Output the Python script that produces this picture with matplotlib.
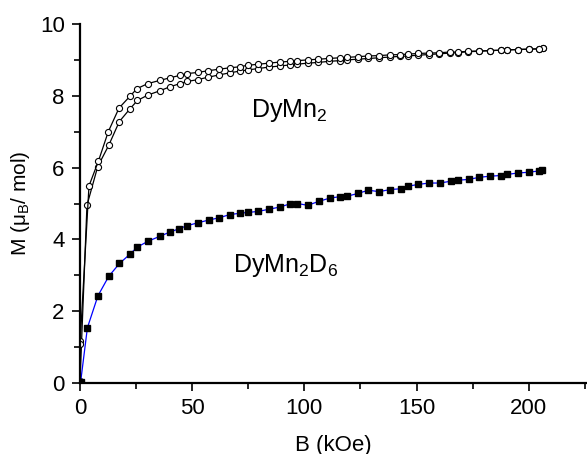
import matplotlib
matplotlib.use("Agg")
import matplotlib.pyplot as plt
from matplotlib.ticker import MultipleLocator

plt.rcParams['font.family'] = ['Liberation Sans', 'DejaVu Sans']
plt.rcParams['mathtext.fontset'] = 'custom'
plt.rcParams['mathtext.rm'] = 'Liberation Sans'
plt.rcParams['mathtext.it'] = 'Liberation Sans'

# DyMn2D6 (squares)
b_d6 = [0.3, 3.3, 8.0, 12.8, 17.6, 22.3, 25.6, 30.4, 35.7, 39.9, 44.3, 47.6,
        52.4, 57.4, 61.9, 66.7, 71.4, 74.7, 79.5, 84.2, 89.0, 93.6, 96.9, 101.5,
        106.5, 111.3, 115.8, 119.0, 123.8, 128.6, 133.3, 138.4, 142.9, 146.1,
        150.6, 155.6, 160.4, 165.2, 168.5, 173.2, 178.0, 182.7, 187.5, 190.5,
        195.2, 200.0, 204.8, 206.0]
m_d6 = [0.04, 1.54, 2.43, 2.97, 3.33, 3.59, 3.79, 3.95, 4.09, 4.20, 4.30, 4.38,
        4.46, 4.54, 4.60, 4.69, 4.73, 4.75, 4.78, 4.84, 4.90, 4.99, 5.00, 4.95,
        5.06, 5.15, 5.19, 5.20, 5.28, 5.37, 5.33, 5.39, 5.41, 5.48,
        5.53, 5.57, 5.57, 5.62, 5.65, 5.67, 5.73, 5.76, 5.78, 5.81,
        5.85, 5.87, 5.91, 5.92]

# DyMn2, increasing field branch (lower)
b_up = [0.0, 3.1, 7.9, 12.8, 17.5, 22.3, 25.6, 30.2, 35.6, 40.0, 44.6, 47.8,
        52.4, 57.2, 61.9, 66.7, 71.4, 74.7, 79.5, 84.2, 89.0, 93.5, 96.7, 101.5,
        106.3, 111.0, 115.8, 119.0, 123.8, 128.6, 133.3, 138.0, 142.8, 146.0,
        150.6, 155.4, 160.2, 165.0, 168.3, 173.0, 178.0, 182.7, 187.5, 190.5,
        195.2, 200.0, 204.8, 206.2]
m_up = [0.05, 4.95, 6.03, 6.62, 7.28, 7.64, 7.87, 8.02, 8.14, 8.25, 8.34, 8.40,
        8.45, 8.52, 8.58, 8.64, 8.69, 8.72, 8.76, 8.80, 8.83, 8.86, 8.88, 8.91,
        8.93, 8.96, 8.98, 9.00, 9.02, 9.04, 9.06, 9.08, 9.10, 9.11,
        9.13, 9.15, 9.17, 9.19, 9.20, 9.23, 9.24, 9.26, 9.27, 9.28,
        9.29, 9.30, 9.31, 9.32]

# DyMn2, decreasing field branch (upper)
b_down = [206.2, 204.8, 200.0, 195.2, 190.5, 187.5, 182.7, 178.0, 173.0, 168.3,
          165.0, 160.2, 155.4, 150.6, 146.0, 142.8, 138.0, 133.3, 128.6, 123.8,
          119.0, 115.8, 111.0, 106.3, 101.5, 96.7, 93.5, 89.0, 84.2, 79.5, 74.7,
          71.4, 66.7, 61.9, 57.2, 52.4, 47.8, 44.6, 40.0, 35.6, 30.2, 25.4, 22.3,
          17.4, 12.6, 8.2, 4.0, 0.1, 0.1]
m_down = [9.32, 9.31, 9.30, 9.29, 9.28, 9.27, 9.26, 9.25, 9.24, 9.22,
          9.22, 9.20, 9.19, 9.18, 9.16, 9.15, 9.14, 9.12, 9.11, 9.09,
          9.07, 9.06, 9.04, 9.02, 9.00, 8.98, 8.96, 8.94, 8.91, 8.88, 8.85,
          8.81, 8.78, 8.74, 8.70, 8.65, 8.62, 8.57, 8.50, 8.43, 8.34, 8.20, 7.99,
          7.66, 7.00, 6.18, 5.49, 1.18, 1.10]

fig = plt.figure(figsize=(5.87, 4.54), dpi=100)
ax = fig.add_axes([0.1363, 0.1564, 0.8637, 0.7907])

ax.plot(b_up, m_up, '-', color='black', lw=0.9, marker='o', ms=4.4,
        mfc='white', mec='black', mew=0.8)
ax.plot(b_down, m_down, '-', color='black', lw=0.9, marker='o', ms=4.4,
        mfc='white', mec='black', mew=0.8)
ax.plot(b_d6, m_d6, '-', color='blue', lw=0.9, marker='s', ms=4.2,
        mfc='black', mec='black')

ax.text(76, 7.4, 'DyMn$_2$', fontsize=18)
ax.text(68, 3.1, 'DyMn$_2$D$_6$', fontsize=18)

ax.set_xlim(0, 226)
ax.set_ylim(0, 10)
ax.xaxis.set_major_locator(MultipleLocator(50))
ax.xaxis.set_minor_locator(MultipleLocator(25))
ax.yaxis.set_major_locator(MultipleLocator(2))
ax.yaxis.set_minor_locator(MultipleLocator(1))

ax.spines['top'].set_visible(False)
ax.spines['right'].set_visible(False)
for s in ['left', 'bottom']:
    ax.spines[s].set_linewidth(1.6)
ax.tick_params(which='major', direction='out', length=6, width=1.2,
               labelsize=16, pad=5)
ax.tick_params(which='minor', direction='out', length=4, width=1.2)

ax.set_xlabel('B (kOe)', fontsize=16, labelpad=11)
ax.set_ylabel('M ($\\mu_{\\rm B}$/ mol)', fontsize=15, labelpad=6)

fig.savefig('out.png', dpi=100)
